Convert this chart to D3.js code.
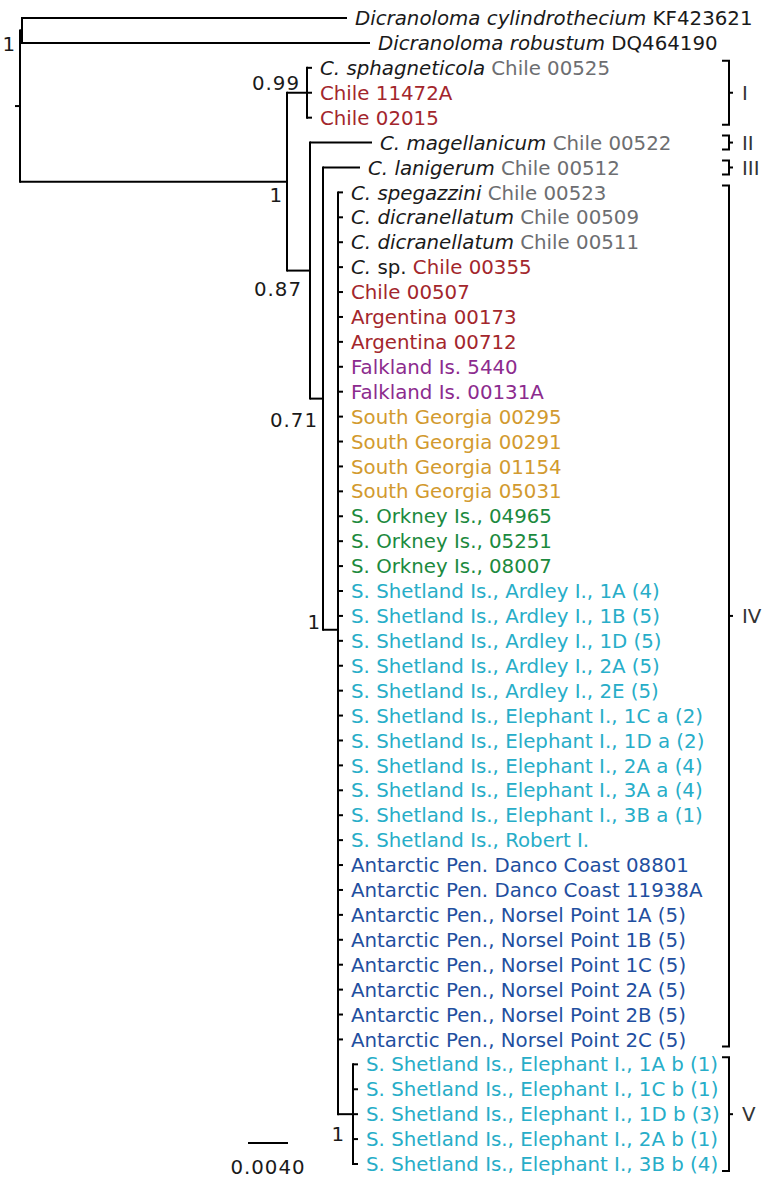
<!DOCTYPE html>
<html>
<head>
<meta charset="utf-8">
<script src="https://cdn.jsdelivr.net/npm/d3@7/dist/d3.min.js"></script>
<style>
html,body{margin:0;padding:0;background:#fff;}
svg{display:block;}
text{font-family:"DejaVu Sans","Open Sans",sans-serif;}
</style>
</head>
<body>
<svg id="chart" width="776" height="1181"></svg>
<script>
// ---------- DATA ----------
const tipSpecies = [
  "Dicranoloma cylindrothecium","Dicranoloma robustum","C. sphagneticola","","",
  "C. magellanicum","C. lanigerum","C. spegazzini","C. dicranellatum","C. dicranellatum",
  "C. sp.","","","","","","","","","","","","","","","","","","","","","","","","","",
  "","","","","","","","","","",""
];
const tipSpecimen = [
  "KF423621","DQ464190","Chile 00525","Chile 11472A","Chile 02015",
  "Chile 00522","Chile 00512","Chile 00523","Chile 00509","Chile 00511",
  "Chile 00355","Chile 00507","Argentina 00173","Argentina 00712",
  "Falkland Is. 5440","Falkland Is. 00131A",
  "South Georgia 00295","South Georgia 00291","South Georgia 01154","South Georgia 05031",
  "S. Orkney Is., 04965","S. Orkney Is., 05251","S. Orkney Is., 08007",
  "S. Shetland Is., Ardley I., 1A (4)","S. Shetland Is., Ardley I., 1B (5)",
  "S. Shetland Is., Ardley I., 1D (5)","S. Shetland Is., Ardley I., 2A (5)",
  "S. Shetland Is., Ardley I., 2E (5)",
  "S. Shetland Is., Elephant I., 1C a (2)","S. Shetland Is., Elephant I., 1D a (2)",
  "S. Shetland Is., Elephant I., 2A a (4)","S. Shetland Is., Elephant I., 3A a (4)",
  "S. Shetland Is., Elephant I., 3B a (1)","S. Shetland Is., Robert I.",
  "Antarctic Pen. Danco Coast 08801","Antarctic Pen. Danco Coast 11938A",
  "Antarctic Pen., Norsel Point 1A (5)","Antarctic Pen., Norsel Point 1B (5)",
  "Antarctic Pen., Norsel Point 1C (5)","Antarctic Pen., Norsel Point 2A (5)",
  "Antarctic Pen., Norsel Point 2B (5)","Antarctic Pen., Norsel Point 2C (5)",
  "S. Shetland Is., Elephant I., 1A b (1)","S. Shetland Is., Elephant I., 1C b (1)",
  "S. Shetland Is., Elephant I., 1D b (3)","S. Shetland Is., Elephant I., 2A b (1)",
  "S. Shetland Is., Elephant I., 3B b (4)"
];
const tipRegion = [
  "outgroup","outgroup","chileRef","chile","chile",
  "chileRef","chileRef","chileRef","chileRef","chileRef",
  "chile","chile","chile","chile",
  "falkland","falkland",
  "georgia","georgia","georgia","georgia",
  "orkney","orkney","orkney",
  "shetland","shetland","shetland","shetland","shetland",
  "shetland","shetland","shetland","shetland","shetland","shetland",
  "peninsula","peninsula","peninsula","peninsula","peninsula","peninsula","peninsula","peninsula",
  "shetland","shetland","shetland","shetland","shetland"
];
// parent node of each tip, and tip branch lengths (substitutions/site)
const tipParent = [
  "out","out","I","I","I","n087","n071",
  "nIV","nIV","nIV","nIV","nIV","nIV","nIV","nIV","nIV","nIV","nIV","nIV","nIV","nIV","nIV","nIV",
  "nIV","nIV","nIV","nIV","nIV","nIV","nIV","nIV","nIV","nIV","nIV","nIV","nIV","nIV","nIV","nIV",
  "nIV","nIV","nIV","nV","nV","nV","nV","nV"
];
const tipLength = [
  0.0325,0.0348,0.0005,0.0005,0.0005,0.0062,0.0037,
  0.0005,0.0005,0.0005,0.0005,0.0005,0.0005,0.0005,0.0005,0.0005,0.0005,0.0005,0.0005,0.0005,0.0005,0.0005,0.0005,
  0.0005,0.0005,0.0005,0.0005,0.0005,0.0005,0.0005,0.0005,0.0005,0.0005,0.0005,0.0005,0.0005,0.0005,0.0005,0.0005,
  0.0005,0.0005,0.0005,0.0005,0.0005,0.0005,0.0005,0.0005
];
// internal nodes
const nodeId      = ["root","out","in","I","n087","n071","nIV","nV"];
const nodeParent  = [null,"root","root","in","in","n087","n071","nIV"];
const nodeLength  = [0,0.0002,0.0267,0.0020,0.0023,0.0013,0.0015,0.0015];
const nodeSupport = ["","1","1","0.99","0.87","0.71","1","1"];
// clade brackets
const cladeNames = ["I","II","III","IV","V"];
const cladeFirst = [2,5,6,7,42];
const cladeLast  = [4,5,6,41,46];
const scaleBarValue = 0.0040;

// ---------- STYLES ----------
const regionColor = {
  outgroup:"#1a1a1a", chileRef:"#6d6e71", chile:"#a3262c", falkland:"#8c2b8e",
  georgia:"#d29a2f", orkney:"#1c8a3e", shetland:"#27adc8", peninsula:"#1f4fa0"
};
const supportOffset = {
  out:[-6,13], in:[-4,13], I:[-7,-10], n087:[-8,18], n071:[-5,21], nIV:[-17,-8], nV:[-8,20]
};
const FS = 19.8;

// ---------- BUILD TREE ----------
const table = [];
nodeId.forEach((id,i)=>table.push({id, parent:nodeParent[i], len:nodeLength[i], support:nodeSupport[i]}));
tipSpecimen.forEach((s,i)=>table.push({id:"t"+i, parent:tipParent[i], len:tipLength[i], row:i}));
const root = d3.stratify().id(d=>d.id).parentId(d=>d.parent)(table);

root.eachBefore(n=>{ n.dist = n.parent ? n.parent.dist + n.data.len : 0; });

const x = d3.scaleLinear().domain([0, 0.035]).range([20, 370]);
const y = d3.scaleLinear().domain([0, tipSpecimen.length-1]).range([18, 1164]);

root.eachAfter(n=>{
  if (!n.children) n.py = y(n.data.row);
  else n.py = d3.mean(n.children, c=>c.py);
  n.px = x(n.dist);
});

const svg = d3.select("#chart");
const g = svg.append("g");
const lineStyle = sel => sel.attr("stroke","#000").attr("stroke-width",2).attr("fill","none").attr("stroke-linecap","butt");

// vertical connectors
root.descendants().filter(n=>n.children).forEach(n=>{
  const ys = n.children.map(c=>c.py);
  g.append("line").attr("x1",n.px).attr("x2",n.px)
    .attr("y1",d3.min(ys)-1).attr("y2",d3.max(ys)+1).call(lineStyle);
});
// horizontal branches
root.descendants().filter(n=>n.parent).forEach(n=>{
  g.append("line").attr("x1",n.parent.px).attr("x2",n.px)
    .attr("y1",n.py).attr("y2",n.py).call(lineStyle);
});
// root stub
g.append("line").attr("x1",root.px-5).attr("x2",root.px).attr("y1",root.py).attr("y2",root.py)
  .call(lineStyle);

// support values
root.descendants().filter(n=>n.data.support).forEach(n=>{
  const o = supportOffset[n.id];
  g.append("text").attr("x",n.px+o[0]).attr("y",n.py+o[1]).attr("dy","0.36em")
    .attr("text-anchor","end").attr("font-size",FS).attr("letter-spacing","1px")
    .attr("fill","#1a1a1a").text(n.data.support);
});

// tip labels
root.leaves().forEach(n=>{
  const i = n.data.row;
  const t = g.append("text").attr("x",n.px+8).attr("y",n.py).attr("dy","0.36em")
    .attr("font-size",FS);
  const sp = tipSpecies[i];
  if (sp) {
    if (sp.endsWith(" sp.")) {
      t.append("tspan").attr("font-style","italic").attr("fill","#1a1a1a").text(sp.slice(0,-4));
      t.append("tspan").attr("fill","#1a1a1a").text(" sp. ");
    } else {
      t.append("tspan").attr("font-style","italic").attr("fill","#1a1a1a").text(sp + " ");
    }
  }
  t.append("tspan").attr("fill",regionColor[tipRegion[i]]).text(tipSpecimen[i]);
});

// clade brackets
const bx = 729;
cladeNames.forEach((name,k)=>{
  const y0 = y(cladeFirst[k]) - 7, y1 = y(cladeLast[k]) + 7, ym = (y(cladeFirst[k]) + y(cladeLast[k]))/2;
  g.append("path").attr("d",`M${bx-7},${y0}H${bx}V${y1}H${bx-7}`).call(lineStyle);
  g.append("line").attr("x1",bx).attr("x2",bx+4).attr("y1",ym).attr("y2",ym).call(lineStyle);
  g.append("text").attr("x",bx+13).attr("y",ym).attr("dy","0.36em").attr("font-size",FS)
    .attr("fill","#333").text(name);
});

// scale bar
const sbx = 248, sby = 1143;
g.append("line").attr("x1",sbx).attr("x2",sbx + (x(scaleBarValue)-x(0))).attr("y1",sby).attr("y2",sby)
  .call(lineStyle);
g.append("text").attr("x",sbx + (x(scaleBarValue)-x(0))/2).attr("y",1167).attr("dy","0.36em")
  .attr("text-anchor","middle").attr("font-size",FS).attr("letter-spacing","1px")
  .attr("fill","#1a1a1a").text(scaleBarValue.toFixed(4));
</script>
</body>
</html>
